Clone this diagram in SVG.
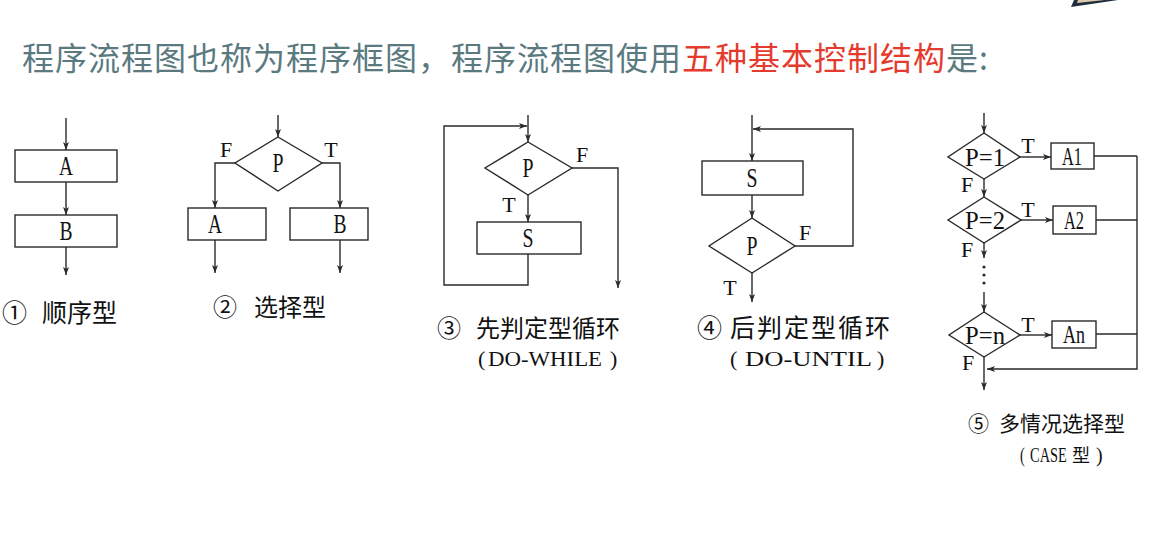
<svg xmlns="http://www.w3.org/2000/svg" width="1166" height="560" viewBox="0 0 1166 560">
<style>
.ln{fill:none;stroke:#2a2a2a;stroke-width:1.4}
.bx{fill:#fff;stroke:#2a2a2a;stroke-width:1.4}
.lt{font-family:"Liberation Serif",serif;font-size:27px;fill:#111;text-anchor:middle}
.ls{font-family:"Liberation Serif",serif;font-size:26px;fill:#111;text-anchor:middle}
.tf{font-family:"Liberation Serif",serif;font-size:22px;fill:#111;text-anchor:middle}
.cj{font-family:"Noto Sans CJK SC",sans-serif;fill:#111}
.sr{font-family:"Liberation Serif",serif;fill:#111}
.title{font-family:"Noto Sans CJK SC",sans-serif;font-size:32px;fill:#5a7a80;letter-spacing:1px}
</style>
<defs>
<marker id="ah" viewBox="0 0 8 6" refX="8" refY="3" markerWidth="8" markerHeight="6" markerUnits="userSpaceOnUse" orient="auto">
<path d="M0,0 L8,3 L0,6 L2,3 z" fill="#2a2a2a"/>
</marker>
</defs>
<rect width="1166" height="560" fill="#fff"/>
<g id="decor">
<polygon points="1071,7 1074,0 1118,0" fill="#1f2d3d"/>
<polygon points="1077,3 1078,0 1105,0" fill="#d9c9a6"/>
</g>
<text class="title" x="22" y="70">程序流程图也称为程序框图，程序流程图使用<tspan fill="#e53a2e">五种基本控制结构</tspan>是:</text>

<g id="connectors">
<!-- diagram 1 -->
<path class="ln" d="M66,118 V150" marker-end="url(#ah)"/>
<path class="ln" d="M66,182 V215" marker-end="url(#ah)"/>
<path class="ln" d="M66,247 V275" marker-end="url(#ah)"/>
<!-- diagram 2 -->
<path class="ln" d="M278,115 V137" marker-end="url(#ah)"/>
<path class="ln" d="M235,163 H215 V208" marker-end="url(#ah)"/>
<path class="ln" d="M322,163 H340 V208" marker-end="url(#ah)"/>
<path class="ln" d="M215,240 V273" marker-end="url(#ah)"/>
<path class="ln" d="M340,240 V273" marker-end="url(#ah)"/>
<!-- diagram 3 -->
<path class="ln" d="M528,115 V142" marker-end="url(#ah)"/>
<path class="ln" d="M572,168 H618 V288" marker-end="url(#ah)"/>
<path class="ln" d="M528,195 V222" marker-end="url(#ah)"/>
<path class="ln" d="M528,254 V285 H444 V126 H527" marker-end="url(#ah)"/>
<!-- diagram 4 -->
<path class="ln" d="M752,115 V161" marker-end="url(#ah)"/>
<path class="ln" d="M752,195 V218" marker-end="url(#ah)"/>
<path class="ln" d="M795,246 H853 V129 H753" marker-end="url(#ah)"/>
<path class="ln" d="M752,273 V302" marker-end="url(#ah)"/>
<!-- diagram 5 -->
<path class="ln" d="M984,113 V133" marker-end="url(#ah)"/>
<path class="ln" d="M1020,157 H1051" marker-end="url(#ah)"/>
<path class="ln" d="M1094,156 H1137"/>
<path class="ln" d="M984,179 V197" marker-end="url(#ah)"/>
<path class="ln" d="M1021,220 H1053" marker-end="url(#ah)"/>
<path class="ln" d="M1096,220 H1137"/>
<path class="ln" d="M984,243 V258" marker-end="url(#ah)"/>
<circle cx="984" cy="267" r="1.6" fill="#2a2a2a"/>
<circle cx="984" cy="275" r="1.6" fill="#2a2a2a"/>
<circle cx="984" cy="283" r="1.6" fill="#2a2a2a"/>
<path class="ln" d="M984,292 V312" marker-end="url(#ah)"/>
<path class="ln" d="M1020,335 H1052" marker-end="url(#ah)"/>
<path class="ln" d="M1096,334 H1137"/>
<path class="ln" d="M1137,156 V369 H987" marker-end="url(#ah)"/>
<path class="ln" d="M984,357 V390" marker-end="url(#ah)"/>
</g>

<!-- diagram 1 nodes -->
<g id="d1-A"><rect class="bx" x="15" y="150" width="102" height="32"/><text class="lt" x="66" y="175" textLength="14" lengthAdjust="spacingAndGlyphs">A</text></g>
<g id="d1-B"><rect class="bx" x="15" y="215" width="102" height="32"/><text class="lt" x="66" y="240" textLength="13" lengthAdjust="spacingAndGlyphs">B</text></g>
<g id="d1-label"><text class="cj" font-size="25" y="322"><tspan x="2">①</tspan><tspan x="42">顺序型</tspan></text></g>

<!-- diagram 2 nodes -->
<g id="d2-P"><polygon class="bx" points="278,137 322,163 278,191 235,163"/><text class="lt" x="278" y="172" textLength="11" lengthAdjust="spacingAndGlyphs">P</text></g>
<g id="d2-A"><rect class="bx" x="188" y="208" width="78" height="32"/><text class="lt" x="215" y="233" textLength="14" lengthAdjust="spacingAndGlyphs">A</text></g>
<g id="d2-B"><rect class="bx" x="290" y="208" width="78" height="32"/><text class="lt" x="340" y="233" textLength="13" lengthAdjust="spacingAndGlyphs">B</text></g>
<g id="d2-labels"><text class="tf" x="226" y="157">F</text><text class="tf" x="331" y="157">T</text>
<text class="cj" font-size="24" y="316"><tspan x="213">②</tspan><tspan x="254">选择型</tspan></text></g>

<!-- diagram 3 nodes -->
<g id="d3-P"><polygon class="bx" points="528,142 572,168 528,195 485,168"/><text class="lt" x="528" y="177" textLength="11" lengthAdjust="spacingAndGlyphs">P</text></g>
<g id="d3-S"><rect class="bx" x="477" y="222" width="104" height="32"/><text class="lt" x="528" y="247" textLength="11" lengthAdjust="spacingAndGlyphs">S</text></g>
<g id="d3-labels"><text class="tf" x="582" y="162">F</text><text class="tf" x="509" y="212">T</text>
<text class="cj" font-size="24" y="337"><tspan x="437">③</tspan><tspan x="476">先判定型循环</tspan></text>
<text y="366" class="sr" font-size="22"><tspan x="478">(</tspan><tspan x="488" textLength="114" lengthAdjust="spacingAndGlyphs">DO-WHILE</tspan><tspan x="610">)</tspan></text></g>

<!-- diagram 4 nodes -->
<g id="d4-S"><rect class="bx" x="702" y="161" width="101" height="34"/><text class="lt" x="752" y="187" textLength="11" lengthAdjust="spacingAndGlyphs">S</text></g>
<g id="d4-P"><polygon class="bx" points="752,218 795,246 752,273 709,246"/><text class="lt" x="752" y="255" textLength="11" lengthAdjust="spacingAndGlyphs">P</text></g>
<g id="d4-labels"><text class="tf" x="805" y="240">F</text><text class="tf" x="730" y="295">T</text>
<text class="cj" font-size="25" y="337"><tspan x="697">④</tspan><tspan x="730" letter-spacing="2">后判定型循环</tspan></text>
<text y="366" class="sr" font-size="22"><tspan x="730">(</tspan><tspan x="745" textLength="127" lengthAdjust="spacingAndGlyphs">DO-UNTIL</tspan><tspan x="877">)</tspan></text></g>

<!-- diagram 5 nodes -->
<g id="d5-P1"><polygon class="bx" points="984,133 1020,157 984,179 948,157"/><text class="ls" x="985" y="166" textLength="40" lengthAdjust="spacingAndGlyphs">P=1</text></g>
<g id="d5-A1"><rect class="bx" x="1051" y="143" width="43" height="26"/><text class="ls" x="1072" y="165" textLength="20" lengthAdjust="spacingAndGlyphs">A1</text></g>
<g id="d5-P2"><polygon class="bx" points="984,197 1021,220 984,243 948,220"/><text class="ls" x="985" y="229" textLength="40" lengthAdjust="spacingAndGlyphs">P=2</text></g>
<g id="d5-A2"><rect class="bx" x="1053" y="206" width="43" height="28"/><text class="ls" x="1074" y="229" textLength="20" lengthAdjust="spacingAndGlyphs">A2</text></g>
<g id="d5-Pn"><polygon class="bx" points="984,312 1020,335 984,357 949,335"/><text class="ls" x="985" y="344" textLength="40" lengthAdjust="spacingAndGlyphs">P=n</text></g>
<g id="d5-An"><rect class="bx" x="1052" y="321" width="44" height="27"/><text class="ls" x="1074" y="343" textLength="22" lengthAdjust="spacingAndGlyphs">An</text></g>
<g id="d5-labels">
<text class="tf" x="1028" y="153">T</text><text class="tf" x="967" y="192">F</text>
<text class="tf" x="1028" y="217">T</text><text class="tf" x="967" y="257">F</text>
<text class="tf" x="1028" y="332">T</text><text class="tf" x="968" y="370">F</text>
<text class="cj" font-size="21" y="431"><tspan x="968">⑤</tspan><tspan x="999">多情况选择型</tspan></text>
<text class="sr" font-size="20" transform="translate(1020,462) scale(0.72,1)">(<tspan x="14">CASE</tspan></text>
<text class="cj" font-size="18" y="462"><tspan x="1072">型</tspan><tspan x="1096" font-family="Liberation Serif, serif" font-size="20">)</tspan></text>
</g>
</svg>
